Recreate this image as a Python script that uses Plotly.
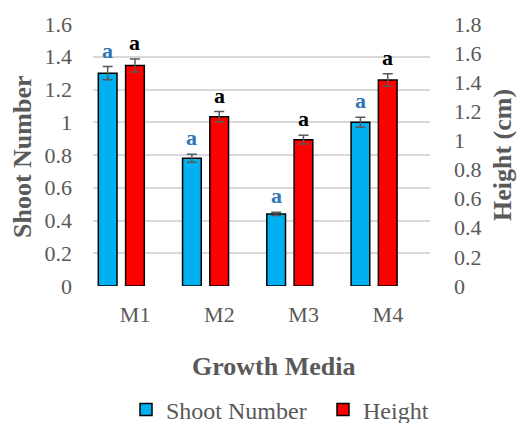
import plotly.graph_objects as go

# Growth media and measured means with error
media = ["M1", "M2", "M3", "M4"]
shoot_number = [1.30, 0.78, 0.44, 1.00]
shoot_err = [0.04, 0.025, 0.01, 0.03]
height_cm = [1.515, 1.163, 1.005, 1.415]
height_err = [0.045, 0.035, 0.03, 0.043]
shoot_letters = ["a", "a", "a", "a"]
height_letters = ["a", "a", "a", "a"]

left_ticks = [0, 0.2, 0.4, 0.6, 0.8, 1, 1.2, 1.4, 1.6]
right_ticks = [0, 0.2, 0.4, 0.6, 0.8, 1, 1.2, 1.4, 1.6, 1.8]

FONT = "Liberation Serif, Times New Roman, serif"
GREY = "#595959"

# bar width and offsets in category units (slot for a third, empty series on the right)
BAR_W = 0.222
SHOOT_OFF = -0.437
HEIGHT_OFF = -0.113

fig = go.Figure()
fig.add_trace(go.Bar(
    x=media, y=shoot_number, name="Shoot Number",
    width=BAR_W, offset=SHOOT_OFF,
    marker=dict(color="#00B0F0", line=dict(color="black", width=1.5)),
    error_y=dict(type="data", array=shoot_err, color=GREY, thickness=1.5, width=5),
    yaxis="y",
))
fig.add_trace(go.Bar(
    x=media, y=height_cm, name="Height",
    width=BAR_W, offset=HEIGHT_OFF,
    marker=dict(color="#FF0000", line=dict(color="black", width=1.5)),
    error_y=dict(type="data", array=height_err, color=GREY, thickness=1.5, width=5),
    yaxis="y2",
))

annotations = []
# Significance letters above each bar
for i, m in enumerate(media):
    annotations.append(dict(
        x=i + SHOOT_OFF + BAR_W / 2, y=shoot_number[i] + shoot_err[i],
        xref="x", yref="y",
        text="<b>%s</b>" % shoot_letters[i], showarrow=False,
        xanchor="center", yanchor="bottom", yshift=2,
        font=dict(family=FONT, size=22, color="#2E75B6"),
    ))
    annotations.append(dict(
        x=i + HEIGHT_OFF + BAR_W / 2, y=height_cm[i] + height_err[i],
        xref="x", yref="y2",
        text="<b>%s</b>" % height_letters[i], showarrow=False,
        xanchor="center", yanchor="bottom", yshift=2,
        font=dict(family=FONT, size=22, color="black"),
    ))

W, H = 517, 423
ML, MR, MT, MB = 93, 87, 24, 137
PW, PH = W - ML - MR, H - MT - MB


def px_to_paper(x, y):
    return (x - ML) / PW, (H - MB - y) / PH


titles = [
    ("<b>Shoot Number</b>", 22, 157, -90),
    ("<b>Height (cm)</b>", 502, 155, -90),
    ("<b>Growth Media</b>", 273, 366, 0),
]
for text, px, py, ang in titles:
    ax, ay = px_to_paper(px, py)
    annotations.append(dict(
        x=ax, y=ay, xref="paper", yref="paper", text=text,
        showarrow=False, textangle=ang, xanchor="center", yanchor="middle",
        font=dict(family=FONT, size=26, color=GREY),
    ))

lx, ly = px_to_paper(520, 410)

fig.update_layout(
    width=W, height=H,
    margin=dict(l=ML, r=MR, t=MT, b=MB, autoexpand=False),
    paper_bgcolor="white", plot_bgcolor="white",
    barmode="overlay",
    font=dict(family=FONT, size=22, color=GREY),
    xaxis=dict(showline=False, ticks="", automargin=False,
               ticklabelstandoff=13,
               tickfont=dict(family=FONT, size=22, color=GREY)),
    yaxis=dict(range=[0, 1.6], tickvals=left_ticks,
               ticktext=[f"{v:g}" for v in left_ticks],
               showgrid=True, gridcolor="#D9D9D9", gridwidth=1.5,
               zeroline=False, showline=False, ticklabelstandoff=20,
               automargin=False,
               tickfont=dict(family=FONT, size=22, color=GREY)),
    yaxis2=dict(range=[0, 1.8], tickvals=right_ticks,
                ticktext=[f"{v:g}" for v in right_ticks],
                overlaying="y", side="right", showgrid=False,
                zeroline=False, showline=False, ticklabelstandoff=23,
                automargin=False,
                tickfont=dict(family=FONT, size=22, color=GREY)),
    showlegend=True,
    legend=dict(orientation="h", x=lx, xanchor="right",
                y=ly, yanchor="middle",
                font=dict(family=FONT, size=24, color=GREY),
                itemwidth=30, tracegroupgap=0,
                entrywidth=152, entrywidthmode="pixels"),
    annotations=annotations,
)

fig.write_html("out.html")
